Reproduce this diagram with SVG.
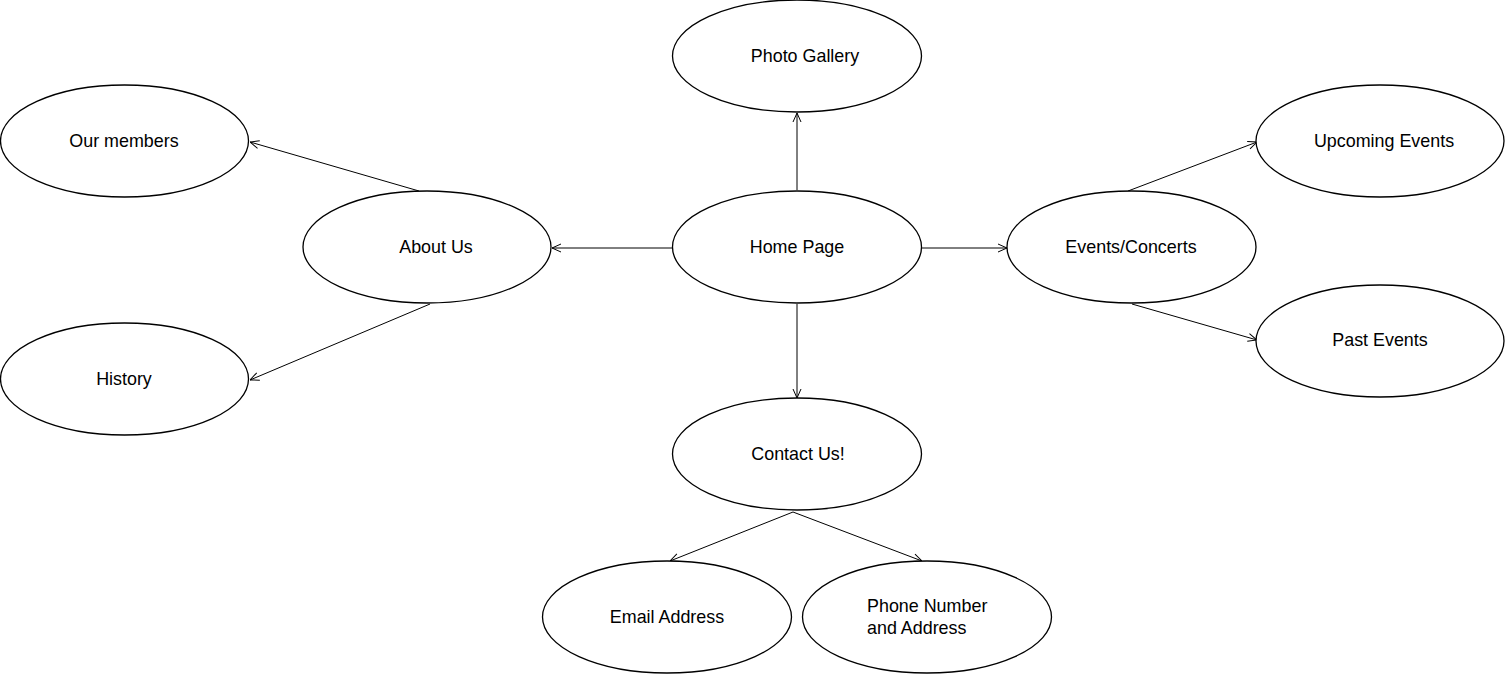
<svg xmlns="http://www.w3.org/2000/svg" width="1505" height="675" viewBox="0 0 1505 675">
<defs>
<marker id="arr" viewBox="0 0 10 10" refX="10" refY="5" markerWidth="10" markerHeight="10" markerUnits="userSpaceOnUse" orient="auto">
<path d="M1,1 L10,5 L1,9" fill="none" stroke="#000" stroke-width="1"/>
</marker>
<style>
.n ellipse{fill:#fff;stroke:#000;stroke-width:1.3}
.n text{font-family:"Liberation Sans",Arial,sans-serif;font-size:17.9px;fill:#000;text-anchor:middle;dominant-baseline:central}
#edges line{stroke:#000;stroke-width:1;marker-end:url(#arr)}
</style>
</defs>
<rect width="1505" height="675" fill="#fff"/>
<g id="edges">
<line x1="797" y1="190" x2="797" y2="113"/>
<line x1="672" y1="248" x2="552" y2="248"/>
<line x1="921" y1="248" x2="1007" y2="248"/>
<line x1="797" y1="304" x2="797" y2="398"/>
<line x1="419" y1="191" x2="250" y2="142"/>
<line x1="430" y1="304" x2="250" y2="380"/>
<line x1="1128" y1="191" x2="1257" y2="142"/>
<line x1="1132" y1="304" x2="1257" y2="340"/>
<line x1="793" y1="512" x2="670" y2="561"/>
<line x1="793" y1="512" x2="922" y2="561"/>
</g>
<g id="photo" class="n"><ellipse cx="797" cy="56" rx="124.5" ry="56"/><text x="805" y="56">Photo Gallery</text></g>
<g id="members" class="n"><ellipse cx="124.5" cy="141" rx="124" ry="56"/><text x="124" y="141">Our members</text></g>
<g id="about" class="n"><ellipse cx="427" cy="247" rx="124" ry="56"/><text x="436" y="247">About Us</text></g>
<g id="home" class="n"><ellipse cx="797" cy="247" rx="124.5" ry="56"/><text x="797" y="247">Home Page</text></g>
<g id="events" class="n"><ellipse cx="1131.5" cy="247" rx="124.5" ry="56"/><text x="1131" y="247">Events/Concerts</text></g>
<g id="upcoming" class="n"><ellipse cx="1380" cy="141" rx="124" ry="56"/><text x="1384" y="141">Upcoming Events</text></g>
<g id="past" class="n"><ellipse cx="1380" cy="341" rx="124" ry="56"/><text x="1380" y="340">Past Events</text></g>
<g id="history" class="n"><ellipse cx="124.5" cy="379" rx="124" ry="56"/><text x="124" y="379">History</text></g>
<g id="contact" class="n"><ellipse cx="797" cy="454" rx="124.5" ry="56"/><text x="798" y="454">Contact Us!</text></g>
<g id="email" class="n"><ellipse cx="667" cy="617" rx="124.5" ry="56"/><text x="667" y="617">Email Address</text></g>
<g id="phone" class="n"><ellipse cx="927" cy="617" rx="124.5" ry="56"/><text x="867" y="606" style="text-anchor:start">Phone Number</text><text x="867" y="628" style="text-anchor:start">and Address</text></g>
</svg>
